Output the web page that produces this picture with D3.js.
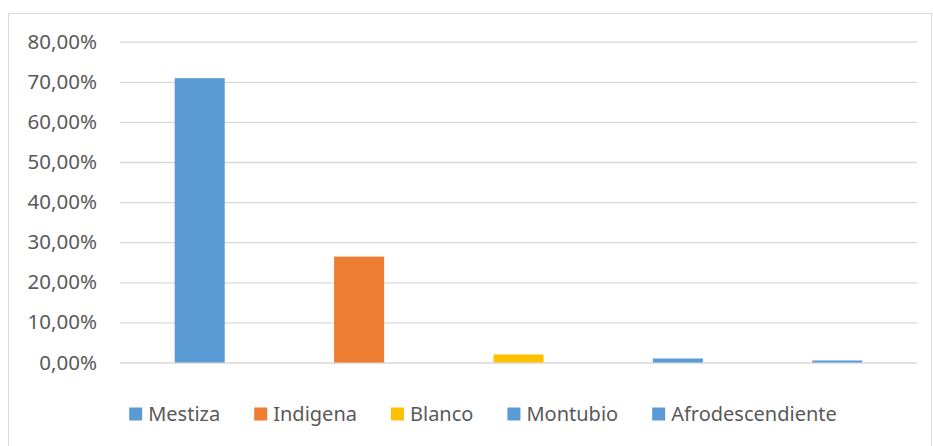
<!DOCTYPE html>
<html>
<head>
<meta charset="utf-8">
<script src="https://cdn.jsdelivr.net/npm/d3@7"></script>
<style>
  body { margin: 0; background: #fff; }
  svg text { font-family: "Noto Sans", "Open Sans", sans-serif; fill: #595959; }
</style>
</head>
<body>
<div id="chart"></div>
<script>
// data
const categories = ['Mestiza', 'Indigena', 'Blanco', 'Montubio', 'Afrodescendiente'];
const values = [70.9, 26.4, 2.0, 1.0, 0.5];
const barColors = ['#5B9BD5', '#ED7D31', '#FFC000', '#5B9BD5', '#5B9BD5'];
const yTicks = [0, 10, 20, 30, 40, 50, 60, 70, 80];

const config = {
  width: 933,
  height: 446,
  plot: { left: 120, right: 917, top: 41.7, bottom: 362.5 },
  tickFontSize: 20.5,
  legendFontSize: 20
};

const svg = d3.select('#chart').append('svg')
  .attr('width', config.width)
  .attr('height', config.height);

// outer chart frame (bottom edge falls outside the picture)
svg.append('rect')
  .attr('x', 8.5)
  .attr('y', 13.5)
  .attr('width', 923)
  .attr('height', 460)
  .attr('fill', 'none')
  .attr('stroke', '#d9d9d9')
  .attr('stroke-width', 1);

// scales
const xScale = d3.scaleBand()
  .domain(categories)
  .range([config.plot.left, config.plot.right])
  .paddingInner(0.686)
  .paddingOuter(0.343);

const yScale = d3.scaleLinear()
  .domain([0, 80])
  .range([config.plot.bottom, config.plot.top]);

// gridlines + tick labels via axis
const yAxis = d3.axisLeft(yScale)
  .tickValues(yTicks)
  .tickSize(-(config.plot.right - config.plot.left))
  .tickPadding(23)
  .tickFormat(d => d3.format('.2f')(d).replace('.', ',') + '%');

const yAxisG = svg.append('g')
  .attr('transform', `translate(${config.plot.left},0)`)
  .call(yAxis);

yAxisG.select('.domain').remove();
yAxisG.selectAll('.tick line')
  .attr('stroke', '#d9d9d9')
  .attr('stroke-width', 1.3);
yAxisG.selectAll('.tick text')
  .attr('font-size', config.tickFontSize)
  .attr('fill', '#595959')
  .attr('font-family', '"Noto Sans", sans-serif');

// bars
svg.selectAll('.bar')
  .data(categories)
  .join('rect')
    .attr('class', 'bar')
    .attr('x', d => xScale(d))
    .attr('width', xScale.bandwidth())
    .attr('y', (d, i) => yScale(values[i]))
    .attr('height', (d, i) => yScale(0) - yScale(values[i]))
    .attr('fill', (d, i) => barColors[i]);

// legend, laid out left to right
const legend = svg.append('g').attr('class', 'legend');
const sq = 13, sqGap = 6, itemGap = 34;
let cursor = 0;
categories.forEach((c, i) => {
  const g = legend.append('g').attr('transform', `translate(${cursor},0)`);
  g.append('rect')
    .attr('x', 0)
    .attr('y', -sq / 2)
    .attr('width', sq)
    .attr('height', sq)
    .attr('fill', barColors[i]);
  const t = g.append('text')
    .attr('x', sq + sqGap)
    .attr('y', 0)
    .attr('dy', '0.35em')
    .attr('font-size', config.legendFontSize)
    .text(c);
  cursor += sq + sqGap + t.node().getComputedTextLength() + itemGap;
});
const legendWidth = cursor - itemGap;
legend.attr('transform', `translate(${483 - legendWidth / 2},414)`);
</script>
</body>
</html>
